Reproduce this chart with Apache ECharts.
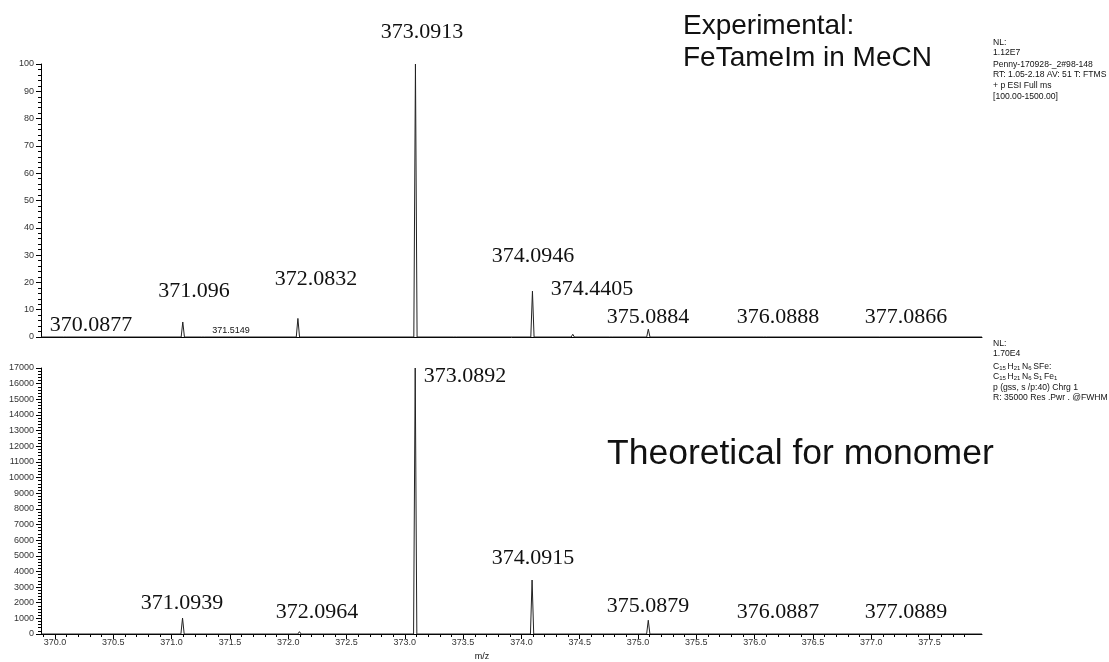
<!DOCTYPE html>
<html>
<head>
<meta charset="utf-8">
<script src="https://cdn.jsdelivr.net/npm/echarts@6/dist/echarts.min.js"></script>
<style>
html,body{margin:0;padding:0;background:#fff;}
#chart{width:1109px;height:662px;}
</style>
</head>
<body>
<div id="chart"></div>
<script>
// ---- data ----
const xMin = 369.88, xMax = 377.95;
// Experimental spectrum (relative abundance, %)
const expMz  = [370.0877, 371.096, 371.27, 371.5149, 372.0832, 373.0913, 373.43, 374.0946, 374.4405, 374.77, 375.0884, 376.0888, 377.0866];
const expInt = [0.4, 5.5, 0.3, 0.3, 6.8, 100, 0.3, 16.8, 1.0, 0.4, 2.9, 0.5, 0.6];
// Theoretical spectrum (intensity)
const theoMz  = [371.0939, 372.0964, 373.0892, 374.0915, 375.0879, 376.0887, 377.0889];
const theoInt = [1020, 150, 17000, 3450, 880, 110, 40];
// tick labels
const xMajorTicks = [370.0, 370.5, 371.0, 371.5, 372.0, 372.5, 373.0, 373.5, 374.0, 374.5, 375.0, 375.5, 376.0, 376.5, 377.0, 377.5];
const xMinorTicks = [];
for (let i = 0; i < 80; i++) { const v = +(369.9 + i * 0.1).toFixed(1); if (v < xMax && Math.abs(v * 2 - Math.round(v * 2)) > 1e-6) xMinorTicks.push(v); }
// peak annotations
const expLabels  = ["370.0877", "371.096", "372.0832", "373.0913", "374.0946", "374.4405", "375.0884", "376.0888", "377.0866"];
const theoLabels = ["371.0939", "372.0964", "373.0892", "374.0915", "375.0879", "376.0887", "377.0889"];

// build profile lines (stick peaks with narrow base)
const HW = 0.014;
function profile(mz, it) {
  const pts = [[xMin, 0]];
  mz.forEach((m, i) => { pts.push([m - HW, 0], [m, it[i]], [m + HW, 0]); });
  pts.push([xMax, 0]);
  return pts;
}

const chart = echarts.init(document.getElementById('chart'), null, {renderer: 'canvas'});
const sans = '"Liberation Sans", Arial, sans-serif';
const serif = '"Liberation Serif", "Times New Roman", serif';
const axisLbl = {fontSize: 9, color: '#333', fontFamily: sans};

function txt(text, x, y, font, align, extra) {
  return {type: 'text', x: x, y: y, silent: true,
    style: Object.assign({text: text, font: font, fill: '#111', textAlign: align || 'center', textVerticalAlign: 'middle'}, extra || {})};
}

const expPos  = [[91,325],[194,291],[316,279],[422,32],[533,256],[592,289],[648,317],[778,317],[906,317]];
const theoPos = [[182,603],[317,612],[465,376],[533,558],[648,606],[778,612],[906,612]];
const graphics = [];
expLabels.forEach((t, i) => graphics.push(txt(t, expPos[i][0], expPos[i][1], '22px ' + serif)));
theoLabels.forEach((t, i) => graphics.push(txt(t, theoPos[i][0], theoPos[i][1], '22px ' + serif)));
graphics.push(txt('371.5149', 231, 331, '9px ' + sans));
graphics.push(txt('Experimental:', 683, 26, '28px ' + sans, 'left'));
graphics.push(txt('FeTameIm in MeCN', 683, 58, '28px ' + sans, 'left'));
graphics.push(txt('Theoretical for monomer', 607, 454, '35.5px ' + sans, 'left'));
graphics.push(txt('m/z', 482, 657, '9px ' + sans));
const noteTop = ['NL:', '1.12E7', 'Penny-170928-_2#98-148', 'RT: 1.05-2.18 AV: 51 T: FTMS', '+ p ESI Full ms', '[100.00-1500.00]'];
const noteTopY = [43, 53, 65, 75, 86, 97];
noteTop.forEach((t, i) => graphics.push(txt(t, 993, noteTopY[i], '8.6px ' + sans, 'left')));
const noteBotY = [344, 354, 367, 377, 388, 398];
graphics.push(txt('NL:', 993, noteBotY[0], '8.6px ' + sans, 'left'));
graphics.push(txt('1.70E4', 993, noteBotY[1], '8.6px ' + sans, 'left'));
const richStyle = {n: {fontSize: 8.6, fontFamily: sans, fill: '#111'}, s: {fontSize: 6, fontFamily: sans, fill: '#111', verticalAlign: 'bottom'}};
graphics.push(txt('{n|C}{s|15 }{n|H}{s|21 }{n|N}{s|6 }{n|SFe:}', 993, noteBotY[2], '8.6px ' + sans, 'left', {rich: richStyle}));
graphics.push(txt('{n|C}{s|15 }{n|H}{s|21 }{n|N}{s|6 }{n|S}{s|1 }{n|Fe}{s|1}', 993, noteBotY[3], '8.6px ' + sans, 'left', {rich: richStyle}));
graphics.push(txt('p (gss, s /p:40) Chrg 1', 993, noteBotY[4], '8.6px ' + sans, 'left'));
graphics.push(txt('R: 35000 Res .Pwr . @FWHM', 993, noteBotY[5], '8.6px ' + sans, 'left'));

const line = {show: true, lineStyle: {color: '#000', width: 1}};

chart.setOption({
  animation: false,
  backgroundColor: '#fff',
  grid: [
    {left: 41, top: 64, width: 941, height: 273},
    {left: 41, top: 368, width: 941, height: 266}
  ],
  xAxis: [
    {type: 'value', gridIndex: 0, min: xMin, max: xMax, axisLine: line, axisTick: {show: false}, axisLabel: {show: false}, splitLine: {show: false}},
    {type: 'value', gridIndex: 1, position: 'bottom', min: xMin, max: xMax, axisLine: line,
      axisTick: {show: true, length: 5, lineStyle: {color: '#000'}, customValues: xMajorTicks},
      axisLabel: Object.assign({show: true, margin: 4, customValues: xMajorTicks, formatter: v => v.toFixed(1)}, axisLbl),
      splitLine: {show: false}},
    {type: 'value', gridIndex: 1, position: 'bottom', offset: 0, min: xMin, max: xMax, axisLine: {show: false},
      axisTick: {show: true, length: 3, lineStyle: {color: '#000'}, customValues: xMinorTicks},
      axisLabel: {show: false}, splitLine: {show: false}}
  ],
  yAxis: [
    {type: 'value', gridIndex: 0, min: 0, max: 100, interval: 10, axisLine: line,
      axisTick: {show: true, length: 5, lineStyle: {color: '#000'}},
      minorTick: {show: true, splitNumber: 5, length: 3, lineStyle: {color: '#000'}},
      axisLabel: Object.assign({margin: 7}, axisLbl), splitLine: {show: false}},
    {type: 'value', gridIndex: 1, min: 0, max: 17000, interval: 1000, axisLine: line,
      axisTick: {show: true, length: 5, lineStyle: {color: '#000'}},
      minorTick: {show: true, splitNumber: 5, length: 3, lineStyle: {color: '#000'}},
      axisLabel: Object.assign({margin: 7, formatter: v => String(v)}, axisLbl), splitLine: {show: false}}
  ],
  series: [
    {type: 'line', xAxisIndex: 0, yAxisIndex: 0, data: profile(expMz, expInt), symbol: 'none', lineStyle: {color: '#222', width: 1}, clip: true},
    {type: 'line', xAxisIndex: 1, yAxisIndex: 1, data: profile(theoMz, theoInt), symbol: 'none', lineStyle: {color: '#222', width: 1}, clip: true}
  ],
  graphic: graphics
});
</script>
</body>
</html>
